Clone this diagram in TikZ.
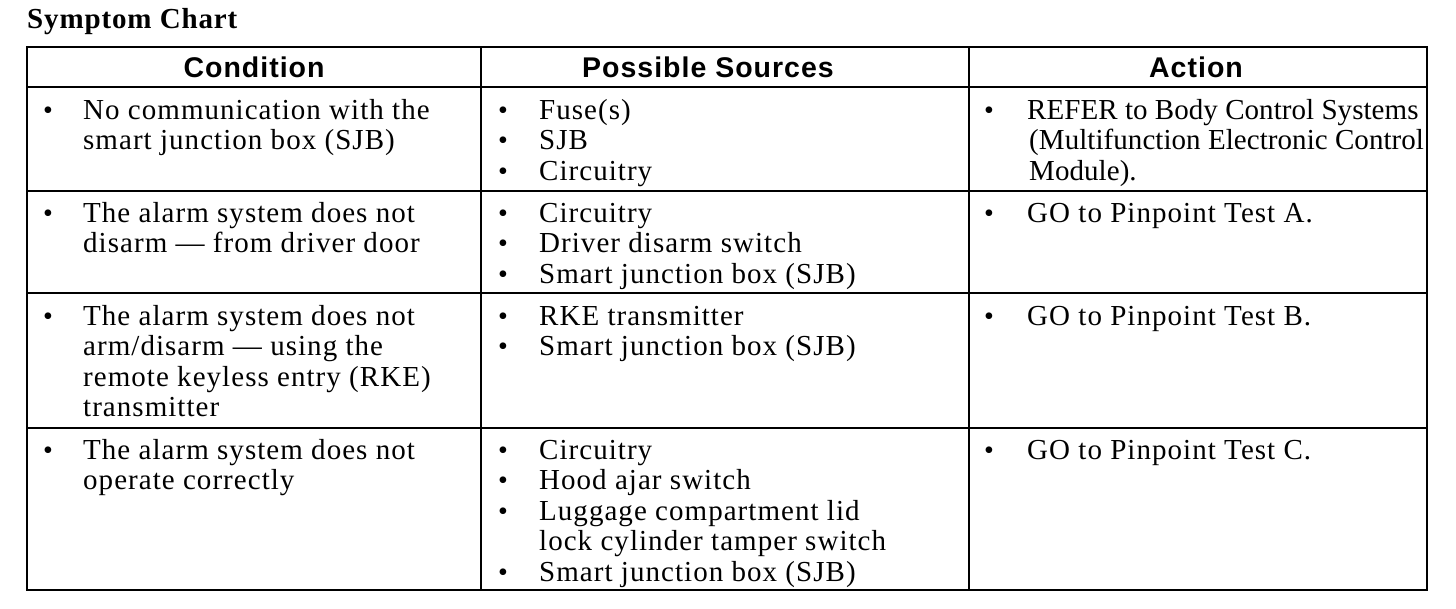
\documentclass[tikz,border=0pt]{standalone}
\usepackage{fontspec}
\setmainfont{Liberation Serif}
\newfontfamily\bodyfont{Liberation Serif}[LetterSpace=3.6]
\newfontfamily\tightfont{Liberation Serif}[LetterSpace=0.2]
\newfontfamily\titlefont{Liberation Serif}[LetterSpace=3]
\newfontfamily\hdfont{Liberation Sans}[LetterSpace=3.5]
\begin{document}
\begin{tikzpicture}[x=1pt,y=-1pt,
  outer/.style={line width=2.6pt},
  inner/.style={line width=2.2pt},
  hd/.style={anchor=base,inner sep=0pt,font=\hdfont\bfseries\fontsize{28.5}{30}\selectfont},
  bul/.style={anchor=base,inner sep=0pt,font=\bodyfont\fontsize{28}{30.5}\selectfont},
  txt/.style={anchor=base west,inner sep=0pt,font=\bodyfont\fontsize{29}{30.5}\selectfont},
  ttxt/.style={anchor=base west,inner sep=0pt,font=\tightfont\fontsize{29}{30.5}\selectfont}]
\useasboundingbox[fill=white] (0,0) rectangle (1456,608);
% grid
\draw[inner] (27,87) -- (1427,87);
\draw[inner] (27,191) -- (1427,191);
\draw[inner] (27,293) -- (1427,293);
\draw[inner] (27,428) -- (1427,428);
\draw[inner] (481,47) -- (481,590);
\draw[inner] (969,47) -- (969,590);
\draw[outer] (27,47) rectangle (1427,590);
% title
\node[anchor=base west,inner sep=0pt,font=\titlefont\bfseries\fontsize{29}{30}\selectfont] (title) at (27,28) {Symptom Chart};
% headers
\node[hd] (h1) at (254,77) {Condition};
\node[hd] (h2) at (708,77) {Possible Sources};
\node[hd] (h3) at (1196,77) {Action};
% row 1
\node[bul] (b11) at (48,119) {•};
\node[txt] (c1a) at (83,119) {No communication with the};
\node[txt] (c1b) at (83,149.5) {smart junction box (SJB)};
\node[bul] (b121) at (503,119) {•};
\node[txt] (s11) at (539,119) {Fuse(s)};
\node[bul] (b122) at (503,149.5) {•};
\node[txt] (s12) at (539,149.5) {SJB};
\node[bul] (b123) at (503,180) {•};
\node[txt] (s13) at (539,180) {Circuitry};
\node[bul] (b13) at (989,119) {•};
\node[ttxt] (a1a) at (1027,119) {REFER to Body Control Systems};
\node[ttxt] (a1b) at (1029,149.5) {(Multifunction Electronic Control};
\node[ttxt] (a1c) at (1029,180) {Module).};
% row 2
\node[bul] (b21) at (48,222) {•};
\node[txt] (c2a) at (83,222) {The alarm system does not};
\node[txt] (c2b) at (83,252.5) {disarm — from driver door};
\node[bul] (b221) at (503,222) {•};
\node[txt] (s21) at (539,222) {Circuitry};
\node[bul] (b222) at (503,252.5) {•};
\node[txt] (s22) at (539,252.5) {Driver disarm switch};
\node[bul] (b223) at (503,283) {•};
\node[txt] (s23) at (539,283) {Smart junction box (SJB)};
\node[bul] (b23) at (989,222) {•};
\node[txt] (a2) at (1027,222) {GO to Pinpoint Test A.};
% row 3
\node[bul] (b31) at (48,325) {•};
\node[txt] (c3a) at (83,325) {The alarm system does not};
\node[txt] (c3b) at (83,355.5) {arm/disarm — using the};
\node[txt] (c3c) at (83,386) {remote keyless entry (RKE)};
\node[txt] (c3d) at (83,416.5) {transmitter};
\node[bul] (b321) at (503,325) {•};
\node[txt] (s31) at (539,325) {RKE transmitter};
\node[bul] (b322) at (503,355.5) {•};
\node[txt] (s32) at (539,355.5) {Smart junction box (SJB)};
\node[bul] (b33) at (989,325) {•};
\node[txt] (a3) at (1027,325) {GO to Pinpoint Test B.};
% row 4
\node[bul] (b41) at (48,459) {•};
\node[txt] (c4a) at (83,459) {The alarm system does not};
\node[txt] (c4b) at (83,489.5) {operate correctly};
\node[bul] (b421) at (503,459) {•};
\node[txt] (s41) at (539,459) {Circuitry};
\node[bul] (b422) at (503,489.5) {•};
\node[txt] (s42) at (539,489.5) {Hood ajar switch};
\node[bul] (b423) at (503,520) {•};
\node[txt] (s43a) at (539,520) {Luggage compartment lid};
\node[txt] (s43b) at (539,550.5) {lock cylinder tamper switch};
\node[bul] (b424) at (503,581) {•};
\node[txt] (s44) at (539,581) {Smart junction box (SJB)};
\node[bul] (b43) at (989,459) {•};
\node[txt] (a4) at (1027,459) {GO to Pinpoint Test C.};
\end{tikzpicture}
\end{document}
